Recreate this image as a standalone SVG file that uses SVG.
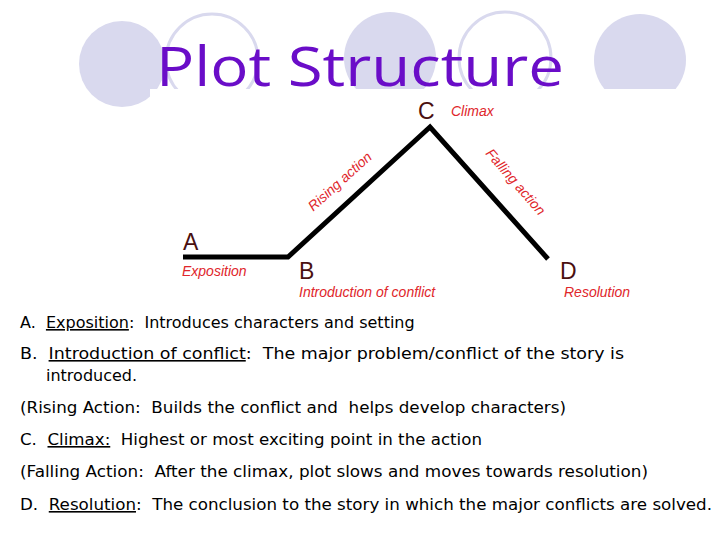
<svg xmlns="http://www.w3.org/2000/svg" width="720" height="540" viewBox="0 0 720 540">
<style>
.fc{fill:#d9d9ee}
.oc{fill:none;stroke:#d9d9ee;stroke-width:3}
.lab{font-family:"Liberation Sans",Arial,sans-serif;font-style:italic;fill:#e0262b;font-size:14px}
.let{font-family:"Liberation Sans",Arial,sans-serif;fill:#4a1010;font-size:23px}
.b{font-family:"DejaVu Sans","Liberation Sans",sans-serif;font-size:16px;fill:#000;white-space:pre}
.ul{text-decoration:underline}
</style>
<rect width="720" height="540" fill="#fff"/>
<g id="decor">
<circle class="fc" cx="122" cy="64" r="43"/>
<circle class="oc" cx="212" cy="60" r="46"/>
<circle class="fc" cx="390" cy="58" r="46"/>
<circle class="oc" cx="505" cy="58" r="46"/>
<circle class="fc" cx="640" cy="60" r="46"/>
<rect x="150" y="89" width="538" height="220" fill="#fff"/>
</g>
<text x="360" y="86" text-anchor="middle" font-family="Open Sans,DejaVu Sans,sans-serif" font-size="54" fill="#6a0dc8" textLength="408" lengthAdjust="spacingAndGlyphs">Plot Structure</text>
<g id="connectors">
<polyline points="183,257 288,257 430,127 548,259" fill="none" stroke="#000" stroke-width="5" stroke-linejoin="miter"/>
</g>
<g id="A"><text class="let" x="183" y="250">A</text><text class="lab" x="182" y="276">Exposition</text></g>
<g id="B"><text class="let" x="299" y="279">B</text><text class="lab" x="299" y="297">Introduction of conflict</text></g>
<g id="C"><text class="let" x="418" y="119">C</text><text class="lab" x="451" y="116">Climax</text></g>
<g id="D"><text class="let" x="560" y="279">D</text><text class="lab" x="564" y="297">Resolution</text></g>
<text class="lab" transform="translate(343,185) rotate(-42)" text-anchor="middle" font-size="17">Rising action</text>
<text class="lab" transform="translate(512,185) rotate(49)" text-anchor="middle" font-size="17">Falling action</text>
<g id="body" xml:space="preserve">
<text class="b" x="20" y="328">A.  <tspan class="ul">Exposition</tspan>:  Introduces characters and setting</text>
<text class="b" x="20" y="359" textLength="604" lengthAdjust="spacingAndGlyphs">B.  <tspan class="ul">Introduction of conflict</tspan>:  The major problem/conflict of the story is</text>
<text class="b" x="46" y="381">introduced.</text>
<text class="b" x="20" y="413" textLength="546" lengthAdjust="spacingAndGlyphs">(Rising Action:  Builds the conflict and  helps develop characters)</text>
<text class="b" x="20" y="445" textLength="462" lengthAdjust="spacingAndGlyphs">C.  <tspan class="ul">Climax:</tspan>  Highest or most exciting point in the action</text>
<text class="b" x="20" y="477" textLength="628" lengthAdjust="spacingAndGlyphs">(Falling Action:  After the climax, plot slows and moves towards resolution)</text>
<text class="b" x="20" y="510" textLength="692" lengthAdjust="spacingAndGlyphs">D.  <tspan class="ul">Resolution</tspan>:  The conclusion to the story in which the major conflicts are solved.</text>
</g>
</svg>
